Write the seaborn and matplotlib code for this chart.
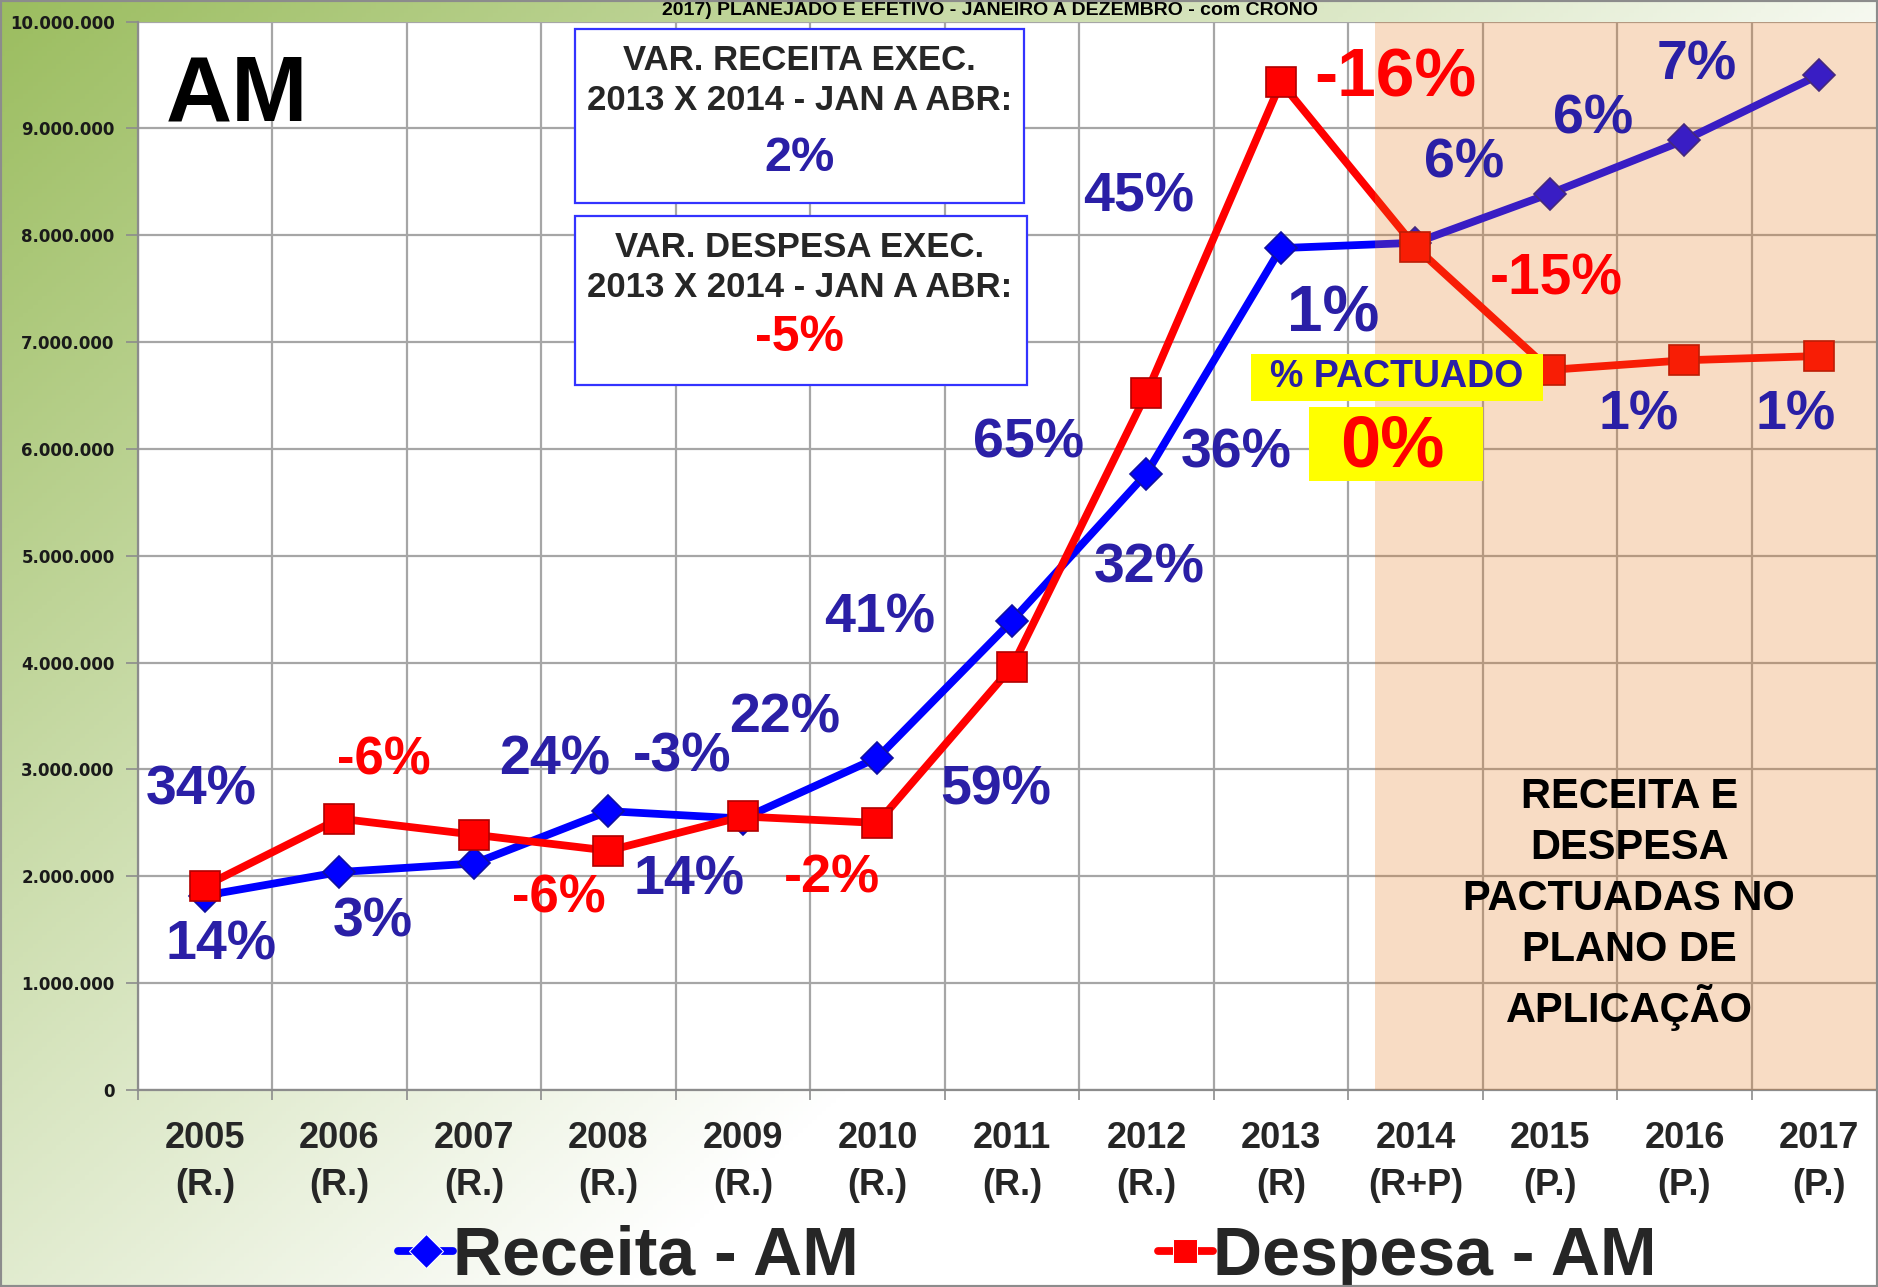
import numpy as np
import pandas as pd
import matplotlib
matplotlib.use("Agg")
import matplotlib.pyplot as plt
import seaborn as sns
from matplotlib.patches import Rectangle
from matplotlib.ticker import FuncFormatter, FixedLocator

# ---------------- data ----------------
anos = ["2005\n(R.)", "2006\n(R.)", "2007\n(R.)", "2008\n(R.)", "2009\n(R.)",
        "2010\n(R.)", "2011\n(R.)", "2012\n(R.)", "2013\n(R)", "2014\n(R+P)",
        "2015\n(P.)", "2016\n(P.)", "2017\n(P.)"]
receita = [1.82e6, 2.04e6, 2.12e6, 2.61e6, 2.54e6, 3.11e6, 4.39e6,
           5.77e6, 7.88e6, 7.93e6, 8.39e6, 8.89e6, 9.50e6]
despesa = [1.91e6, 2.54e6, 2.39e6, 2.24e6, 2.56e6, 2.50e6, 3.96e6,
           6.52e6, 9.43e6, 7.89e6, 6.74e6, 6.83e6, 6.87e6]
series_names = ["Receita - AM", "Despesa - AM"]

blue_labels = ["34%", "14%", "3%", "24%", "-3%", "22%", "14%", "41%", "65%",
               "59%", "45%", "32%", "36%", "1%", "6%", "6%", "7%", "1%", "1%"]
red_labels = ["-6%", "-6%", "-2%", "-16%", "-15%"]

title_txt = "2017) PLANEJADO E EFETIVO - JANEIRO A DEZEMBRO - com CRONO"
box1_lines = ["VAR. RECEITA EXEC.", "2013 X 2014 - JAN A ABR:", "2%"]
box2_lines = ["VAR. DESPESA EXEC.", "2013 X 2014 - JAN A ABR:", "-5%"]
pactuado_txt = "% PACTUADO"
pactuado_val = "0%"
plano_txt = "RECEITA E\nDESPESA\nPACTUADAS NO\nPLANO DE\nAPLICAÇÃO"

# ---------------- placement (annotation positions, x in category index, y in value) ----------------
blue_pos = [(-0.03, 2.80e6), (0.12, 1.35e6), (1.25, 1.57e6), (2.60, 3.08e6), (3.55, 3.11e6),
            (4.31, 3.48e6), (3.60, 1.96e6), (5.02, 4.41e6), (6.12, 6.05e6), (5.88, 2.80e6),
            (6.94, 8.35e6), (7.02, 4.88e6), (7.67, 5.96e6), (8.39, 7.26e6), (9.36, 8.67e6),
            (10.32, 9.08e6), (11.09, 9.59e6), (10.66, 6.31e6), (11.83, 6.31e6)]
blue_sizes = [40] * 13 + [46] + [40] * 5
red_pos = [(1.33, 3.08e6), (2.63, 1.79e6), (4.66, 1.98e6), (8.85, 9.47e6), (10.05, 7.59e6)]
red_sizes = [38, 38, 39, 50, 41]

W, H = 1878, 1287
fig = plt.figure(figsize=(W / 100, H / 100), dpi=100)

sns.set_theme(style="white")
plt.rcParams["font.family"] = ["Liberation Sans", "DejaVu Sans"]

# background gradient
bg = fig.add_axes([0, 0, 1, 1], zorder=-10)
xs = np.linspace(0, 1, 400)
ys = np.linspace(0, 1, 300)
XX, YY = np.meshgrid(xs, ys)
t = np.clip(0.9 * XX + 0.7 * YY, 0, 1)[..., None]
green = np.array([155, 189, 95]) / 255
white = np.array([1.0, 1.0, 1.0])
grad = green * (1 - t) + white * t
bg.imshow(grad, extent=[0, 1, 0, 1], aspect="auto", origin="upper")
bg.set_axis_off()

left = 137.7 / W
bottom = 1 - 1090 / H
top = 1 - 21.6 / H
width = 1748.5 / W
ax = fig.add_axes([left, bottom, width, top - bottom])
ax.set_facecolor("white")

df = pd.DataFrame({
    "ano": anos * 2,
    "valor": receita + despesa,
    "serie": [series_names[0]] * len(anos) + [series_names[1]] * len(anos),
})
sns.lineplot(data=df, x="ano", y="valor", hue="serie", style="serie",
             palette={series_names[0]: "#0000FF", series_names[1]: "#FF0000"},
             markers={series_names[0]: "D", series_names[1]: "s"},
             dashes=False, linewidth=5.6, markersize=17, ax=ax, legend=True,
             sort=False)
edge = {0: "#1010A0", 1: "#B00000"}
for i, ln in enumerate(ax.lines[:2]):
    ln.set_markeredgecolor(edge[i])
    ln.set_markeredgewidth(1.2)
ax.lines[0].set_markersize(16)
ax.lines[1].set_markersize(21)

ax.set_xlim(-0.5, 12.5)
ax.set_ylim(0, 10e6)
ax.set_xlabel("")
ax.set_ylabel("")

# grid
ax.set_axisbelow(True)
ax.yaxis.set_major_locator(FixedLocator(np.arange(0, 10.01e6, 1e6)))
ax.xaxis.set_minor_locator(FixedLocator(np.arange(-0.5, 12.6, 1.0)))
ax.grid(True, which="major", axis="y", color="#A6A6A6", lw=1.6)
ax.grid(True, which="minor", axis="x", color="#A6A6A6", lw=1.6)
ax.grid(False, which="major", axis="x")
for s in ["top", "right"]:
    ax.spines[s].set_visible(False)
ax.spines["left"].set_color("#8C8C8C")
ax.spines["left"].set_linewidth(1.6)
ax.spines["bottom"].set_color("#8C8C8C")
ax.spines["bottom"].set_linewidth(1.6)

ax.yaxis.set_major_formatter(FuncFormatter(lambda v, p: "0" if v == 0 else f"{int(round(v)):,}".replace(",", ".")))
ax.tick_params(axis="y", which="major", left=True, length=8.6, width=1.2, color="#8C8C8C",
               pad=8, labelsize=12, labelcolor="#1A1A1A")
for lab in ax.get_yticklabels():
    lab.set_family("DejaVu Sans")
    lab.set_fontweight("bold")
ax.tick_params(axis="x", which="major", bottom=False, length=0, pad=22, labelsize=26)
ax.tick_params(axis="x", which="minor", bottom=True, length=7.5, width=1.2, color="#8C8C8C")
for lab in ax.get_xticklabels():
    lab.set_fontweight("bold")
    lab.set_linespacing(1.45)

# peach overlay (projection region) above lines & grid
ax.axvspan(8.70, 13.0, color=(0.894, 0.455, 0.078), alpha=0.25, lw=0, zorder=3)

# annotations
BLUE_T = "#2A1FA6"
for txt, (x, y), fs in zip(blue_labels, blue_pos, blue_sizes):
    ax.text(x, y, txt, color=BLUE_T, fontsize=fs, fontweight="bold",
            ha="center", va="center", zorder=8)
for txt, (x, y), fs in zip(red_labels, red_pos, red_sizes):
    ax.text(x, y, txt, color="#FF0000", fontsize=fs, fontweight="bold",
            ha="center", va="center", zorder=8)

ax.text(0.24, 9.30e6, "AM", fontsize=66, fontweight="bold", color="black",
        ha="center", va="center", zorder=8)

# boxes
ax.add_patch(Rectangle((2.75, 8.30e6), 3.34, 1.63e6, fc="white", ec="#3333FF", lw=1.6, zorder=6))
ax.add_patch(Rectangle((2.75, 6.60e6), 3.36, 1.58e6, fc="white", ec="#3333FF", lw=1.6, zorder=6))
bx = 4.42
ax.text(bx, 9.64e6, box1_lines[0], fontsize=25, fontweight="bold", ha="center", va="center", zorder=7)
ax.text(bx, 9.26e6, box1_lines[1], fontsize=25, fontweight="bold", ha="center", va="center", zorder=7)
ax.text(bx, 8.72e6, box1_lines[2], fontsize=35, fontweight="bold", color=BLUE_T, ha="center", va="center", zorder=7)
ax.text(bx, 7.89e6, box2_lines[0], fontsize=25, fontweight="bold", ha="center", va="center", zorder=7)
ax.text(bx, 7.51e6, box2_lines[1], fontsize=25, fontweight="bold", ha="center", va="center", zorder=7)
ax.text(bx, 7.04e6, box2_lines[2], fontsize=36, fontweight="bold", color="#FF0000", ha="center", va="center", zorder=7)

# yellow boxes
ax.add_patch(Rectangle((7.78, 6.45e6), 2.17, 0.44e6, fc="#FFFF00", ec="none", zorder=6))
ax.add_patch(Rectangle((8.21, 5.70e6), 1.29, 0.69e6, fc="#FFFF00", ec="none", zorder=6))
ax.text(8.86, 6.67e6, pactuado_txt, fontsize=27, fontweight="bold", color=BLUE_T,
        ha="center", va="center", zorder=7)
ax.text(8.83, 6.01e6, pactuado_val, fontsize=52, fontweight="bold", color="#FF0000",
        ha="center", va="center", zorder=7)

ax.text(10.59, 1.74e6, plano_txt, fontsize=30, fontweight="bold", color="black",
        ha="center", va="center", linespacing=1.36, zorder=7)

# title strip at the top
fig.text(0.527, 1 - 10.5 / H, title_txt, fontsize=14, fontweight="bold",
         ha="center", va="center", color="black")

# legend
handles, labels = ax.get_legend_handles_labels()
ax.get_legend().remove()
leg = fig.legend(handles, labels, loc="center", bbox_to_anchor=(0.547, 0.0235), ncol=2,
                 frameon=False, handlelength=0.8, handletextpad=0.0,
                 columnspacing=4.4, borderpad=0, borderaxespad=0,
                 prop={"size": 49, "weight": "bold"})

# figure frame
fig.patches.append(Rectangle((0, 0), 1, 1, transform=fig.transFigure, fill=False,
                             ec="#8C8C8C", lw=3, zorder=100))

fig.savefig("out.png", dpi=100)
